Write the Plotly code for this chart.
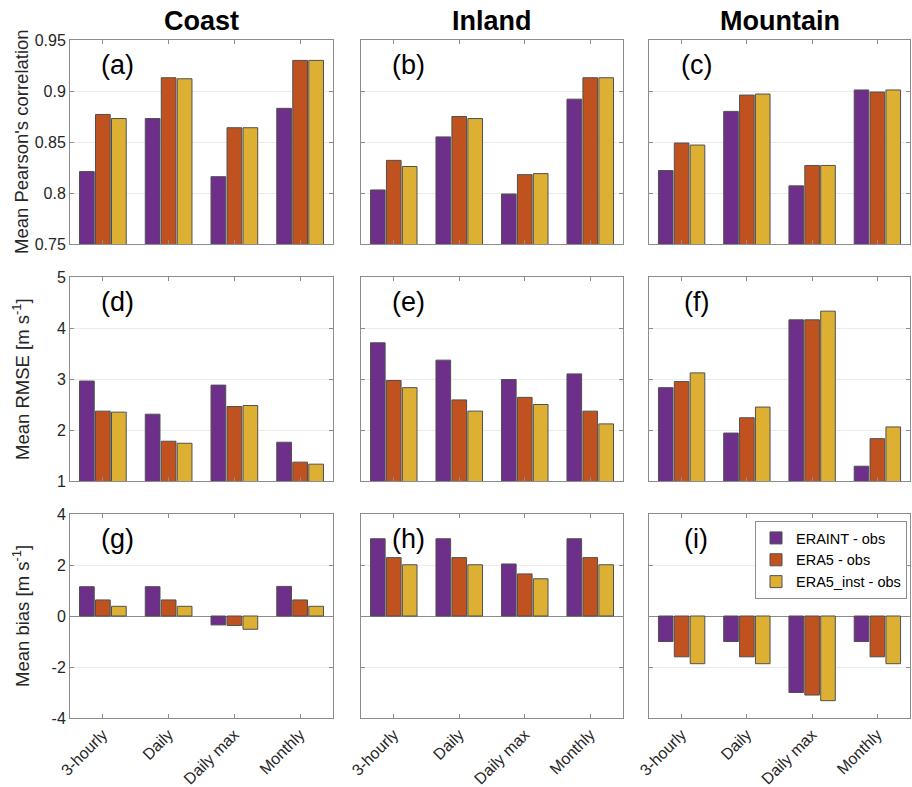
import plotly.graph_objects as go
from plotly.subplots import make_subplots

# Categories, regions and series
categories = ["3-hourly", "Daily", "Daily max", "Monthly"]
regions = ["Coast", "Inland", "Mountain"]
series_names = ["ERAINT - obs", "ERA5 - obs", "ERA5_inst - obs"]
series_colors = ["#6E2F8A", "#C0521F", "#DDAF33"]

# Mean Pearson's correlation
corr_coast_eraint = [0.821, 0.873, 0.816, 0.883]
corr_coast_era5 = [0.877, 0.913, 0.864, 0.930]
corr_coast_inst = [0.873, 0.912, 0.864, 0.930]
corr_inland_eraint = [0.803, 0.855, 0.799, 0.892]
corr_inland_era5 = [0.832, 0.875, 0.818, 0.913]
corr_inland_inst = [0.826, 0.873, 0.819, 0.913]
corr_mountain_eraint = [0.822, 0.880, 0.807, 0.901]
corr_mountain_era5 = [0.849, 0.896, 0.827, 0.899]
corr_mountain_inst = [0.847, 0.897, 0.827, 0.901]

# Mean RMSE [m s-1]
rmse_coast_eraint = [2.96, 2.31, 2.88, 1.76]
rmse_coast_era5 = [2.37, 1.78, 2.46, 1.37]
rmse_coast_inst = [2.35, 1.74, 2.48, 1.33]
rmse_inland_eraint = [3.71, 3.37, 2.99, 3.10]
rmse_inland_era5 = [2.97, 2.59, 2.64, 2.37]
rmse_inland_inst = [2.83, 2.37, 2.50, 2.12]
rmse_mountain_eraint = [2.83, 1.94, 4.16, 1.29]
rmse_mountain_era5 = [2.95, 2.24, 4.16, 1.83]
rmse_mountain_inst = [3.12, 2.45, 4.33, 2.06]

# Mean bias [m s-1]
bias_coast_eraint = [1.15, 1.15, -0.35, 1.16]
bias_coast_era5 = [0.63, 0.63, -0.37, 0.63]
bias_coast_inst = [0.38, 0.38, -0.52, 0.38]
bias_inland_eraint = [3.03, 3.03, 2.04, 3.03]
bias_inland_era5 = [2.29, 2.29, 1.65, 2.29]
bias_inland_inst = [2.01, 2.01, 1.46, 2.01]
bias_mountain_eraint = [-1.0, -1.0, -3.0, -1.0]
bias_mountain_era5 = [-1.6, -1.6, -3.1, -1.6]
bias_mountain_inst = [-1.87, -1.87, -3.32, -1.87]

panel_data = [
    [[corr_coast_eraint, corr_coast_era5, corr_coast_inst],
     [corr_inland_eraint, corr_inland_era5, corr_inland_inst],
     [corr_mountain_eraint, corr_mountain_era5, corr_mountain_inst]],
    [[rmse_coast_eraint, rmse_coast_era5, rmse_coast_inst],
     [rmse_inland_eraint, rmse_inland_era5, rmse_inland_inst],
     [rmse_mountain_eraint, rmse_mountain_era5, rmse_mountain_inst]],
    [[bias_coast_eraint, bias_coast_era5, bias_coast_inst],
     [bias_inland_eraint, bias_inland_era5, bias_inland_inst],
     [bias_mountain_eraint, bias_mountain_era5, bias_mountain_inst]],
]
panel_letters = [["(a)", "(b)", "(c)"], ["(d)", "(e)", "(f)"], ["(g)", "(h)", "(i)"]]
row_titles = ["Mean Pearson's correlation",
              "Mean RMSE [m s<sup>-1</sup>]",
              "Mean bias [m s<sup>-1</sup>]"]
row_ranges = [[0.75, 0.95], [1, 5], [-4, 4]]
row_ticks = [[0.75, 0.8, 0.85, 0.9, 0.95], [1, 2, 3, 4, 5], [-4, -2, 0, 2, 4]]
row_ticktext = [["0.75", "0.8", "0.85", "0.9", "0.95"],
                ["1", "2", "3", "4", "5"],
                ["-4", "-2", "0", "2", "4"]]

W, H = 912, 787
ML, MR, MT, MB = 70, 2, 40, 69
PW, PH = W - ML - MR, H - MT - MB

col_px = [(70, 333), (361, 623), (649, 910)]
row_px = [(40, 244), (277, 481), (514, 718)]

FONT = "Liberation Sans, Arial, Helvetica, sans-serif"
AXIS_COLOR = "#8C8C8C"
TEXT_COLOR = "#262626"

fig = make_subplots(rows=3, cols=3)

for r in range(3):
    for c in range(3):
        for s in range(3):
            fig.add_trace(
                go.Bar(
                    x=categories,
                    y=panel_data[r][c][s],
                    name=series_names[s],
                    legendgroup=series_names[s],
                    showlegend=(r == 2 and c == 2),
                    marker=dict(color=series_colors[s],
                                line=dict(color="#505050", width=1)),
                ),
                row=r + 1, col=c + 1,
            )

layout_axes = {}
for r in range(3):
    for c in range(3):
        n = r * 3 + c + 1
        sfx = "" if n == 1 else str(n)
        x0, x1 = col_px[c]
        y0, y1 = row_px[r]
        layout_axes["xaxis" + sfx] = dict(
            domain=[(x0 - ML) / PW, (x1 - ML) / PW],
            type="category",
            range=[-0.5, 3.5],
            automargin=False,
            showgrid=False,
            showline=True, linecolor=AXIS_COLOR, linewidth=1, mirror="ticks",
            ticks="inside", ticklen=4, tickcolor=AXIS_COLOR,
            showticklabels=(r == 2),
            tickangle=-45,
            tickfont=dict(family=FONT, size=16, color=TEXT_COLOR),
            zeroline=False,
        )
        layout_axes["yaxis" + sfx] = dict(
            domain=[(MT + PH - y1) / PH, (MT + PH - y0) / PH],
            range=row_ranges[r],
            tickvals=row_ticks[r],
            ticktext=row_ticktext[r],
            automargin=False,
            showgrid=True, gridcolor="#EBEBEB", gridwidth=1,
            showline=True, linecolor=AXIS_COLOR, linewidth=1, mirror="ticks",
            ticks="inside", ticklen=4, tickcolor=AXIS_COLOR,
            showticklabels=(c == 0),
            tickfont=dict(family=FONT, size=16, color=TEXT_COLOR),
            zeroline=(r == 2), zerolinecolor=AXIS_COLOR, zerolinewidth=1,
        )

annotations = []
# Column titles
for c in range(3):
    x0, x1 = col_px[c]
    annotations.append(dict(
        text="<b>%s</b>" % regions[c],
        x=((x0 + x1) / 2 - ML) / PW, y=1 + 19 / PH,
        xref="paper", yref="paper", xanchor="center", yanchor="middle",
        showarrow=False, font=dict(family=FONT, size=27, color="black"),
    ))
# Row titles
for r in range(3):
    y0, y1 = row_px[r]
    annotations.append(dict(
        text=row_titles[r],
        x=(21 - ML) / PW, y=(MT + PH - (y0 + y1) / 2) / PH,
        xref="paper", yref="paper", xanchor="center", yanchor="middle",
        textangle=-90, showarrow=False,
        font=dict(family=FONT, size=18.5, color=TEXT_COLOR),
    ))
# Panel letters
for r in range(3):
    for c in range(3):
        n = r * 3 + c + 1
        sfx = "" if n == 1 else str(n)
        x0, x1 = col_px[c]
        y0, y1 = row_px[r]
        annotations.append(dict(
            text=panel_letters[r][c],
            x=47 / (x1 - x0), y=1 - 25 / (y1 - y0),
            xref="x%s domain" % sfx, yref="y%s domain" % sfx,
            xanchor="center", yanchor="middle", showarrow=False,
            font=dict(family=FONT, size=27, color="black"),
        ))

fig.update_layout(
    width=W, height=H,
    margin=dict(l=ML, r=MR, t=MT, b=MB, autoexpand=False),
    paper_bgcolor="white", plot_bgcolor="white",
    barmode="group", bargap=0.27, bargroupgap=0.08,
    annotations=annotations,
    legend=dict(
        x=(755 - ML) / PW, y=(MT + PH - 521) / PH,
        xanchor="left", yanchor="top",
        bgcolor="white", bordercolor=AXIS_COLOR, borderwidth=1,
        font=dict(family=FONT, size=14.5, color="black"),
        tracegroupgap=0,
    ),
    font=dict(family=FONT),
    **layout_axes,
)

fig.write_html("out.html")
